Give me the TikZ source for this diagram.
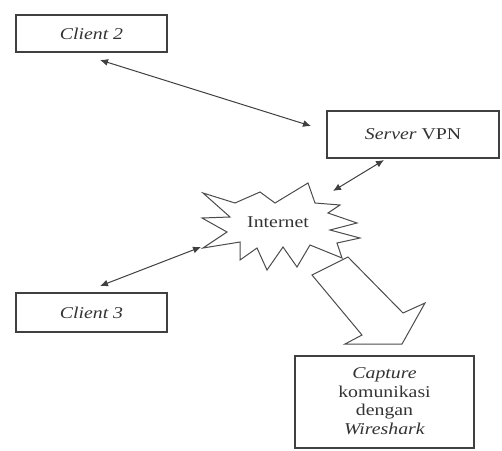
\documentclass[tikz,border=0pt]{standalone}
\usepackage{fontspec}
\setmainfont{Liberation Serif}
\usetikzlibrary{arrows.meta}
\begin{document}
\begin{tikzpicture}[x=1pt,y=-1pt,
  box/.style={draw=black!75, line width=1.3pt, fill=white, inner sep=0pt},
  link/.style={draw=black!75, line width=1pt, {Latex[length=8pt,width=7pt]}-{Latex[length=8pt,width=7pt]}},
  outline/.style={draw=black!70, line width=1pt, line join=miter, fill=white},
  lbl/.style={font=\fontsize{16.5}{18.5}\selectfont, text=black!80, align=center, xscale=1.2, transform shape}]
\useasboundingbox (0,0) rectangle (502,450);
\fill[white] (0,0) rectangle (502,450);
% boxes
\node[box, minimum width=151pt, minimum height=37pt] (c2) at (91.5,33.5) {};
\node[lbl] (c2t) at (91.5,34) {\textit{Client 2}};
\node[box, minimum width=172pt, minimum height=47pt] (srv) at (413,134.5) {};
\node[lbl] (srvt) at (413,134) {\textit{Server} VPN};
\node[box, minimum width=151pt, minimum height=39pt] (c3) at (91.5,312.5) {};
\node[lbl] (c3t) at (91.5,313) {\textit{Client 3}};
\node[box, minimum width=179pt, minimum height=92pt] (cap) at (384.5,402) {};
\node[lbl] (capt) at (384.5,401) {\textit{Capture}\\komunikasi\\dengan\\\textit{Wireshark}};
% starburst
\draw[outline] (203,193) -- (235,203) -- (260,192) -- (275,203) -- (308,183) -- (315,203)
  -- (340,205) -- (328,213) -- (357,223) -- (330,230) -- (360,238) -- (337,243)
  -- (342,258) -- (310,245) -- (297,267) -- (283,247) -- (267,270) -- (257,248)
  -- (240,260) -- (240,242) -- (203,248) -- (227,232) -- (202,218) -- (230,217) -- cycle;
\node[lbl] (inet) at (278,222) {Internet};
% block arrow
\draw[outline] (312,275) -- (348,257) -- (403,313) -- (425,303) -- (402,344)
  -- (345,344) -- (362,335) -- cycle;
% connectors
\coordinate (a1) at (100,60);
\coordinate (a2) at (311,126);
\coordinate (b1) at (384,160);
\coordinate (b2) at (333,191);
\coordinate (d1) at (201,247);
\coordinate (d2) at (100,286);
\draw[link] (a1) -- (a2);
\draw[link] (b1) -- (b2);
\draw[link] (d1) -- (d2);
\end{tikzpicture}
\end{document}
